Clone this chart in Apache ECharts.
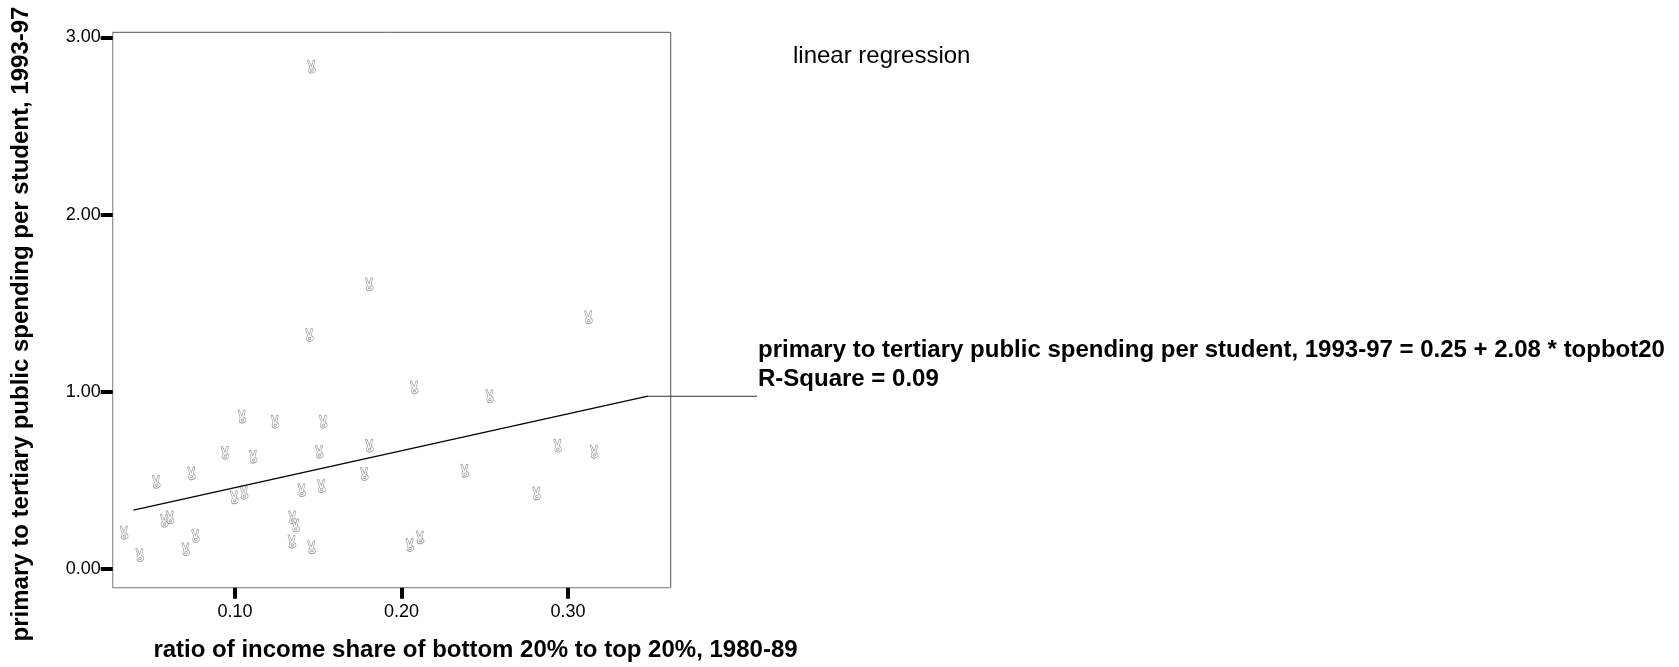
<!DOCTYPE html>
<html>
<head>
<meta charset="utf-8">
<script src="https://cdn.jsdelivr.net/npm/echarts@6/dist/echarts.min.js"></script>
<style>
    html, body {margin: 0; padding: 0; background: #fff;}
    #chart {width: 1679px; height: 667px;}
</style>
</head>
<body>
<div id="chart"></div>
<script>
// ratio of income share of bottom 20% to top 20%, 1980-89
const incomeRatio = [0.1460, 0.1806, 0.3123, 0.1447, 0.2077, 0.2530, 0.1042, 0.1240, 0.1530, 0.0940,
    0.1109, 0.1506, 0.1808, 0.2938, 0.3157, 0.0739, 0.0527, 0.1777, 0.2380, 0.1401,
    0.1519, 0.0996, 0.1055, 0.2811, 0.0575, 0.0610, 0.1345, 0.1364, 0.0334, 0.0763,
    0.0428, 0.0704, 0.1342, 0.1460, 0.2050, 0.2112]
// primary to tertiary public spending per student, 1993-97
const spendingRatio = [2.835, 1.606, 1.420, 1.320, 1.024, 0.975, 0.859, 0.830, 0.830, 0.655,
    0.633, 0.661, 0.695, 0.695, 0.661, 0.539, 0.491, 0.535, 0.553, 0.444,
    0.467, 0.403, 0.429, 0.426, 0.271, 0.290, 0.290, 0.245, 0.203, 0.185,
    0.077, 0.110, 0.153, 0.121, 0.134, 0.177]
// fitted line ends
const regressionLine = [[0.039, 0.331], [0.348, 0.974]]
const xTicks = [0.1, 0.2, 0.3]
const yTicks = [0, 1, 2, 3]

const font = "'Liberation Sans', Arial, sans-serif"
const labelLeft = 758
// victory hand glyph used as marker
const handPath = 'path://M6 18 L2 3 Q2.5 1 4.5 1.5 L9 15 L12 2 Q14 1 15 3 L12 18 Q17 20 16 26 Q14 31 9 31 Q4 31 4 25 Q4 20 6 18 Z M7 24 Q7 21.5 9.5 21.5 Q12 21.5 12 24 Q12 26.5 9.5 26.5 Q7 26.5 7 24 Z'

const points = incomeRatio.map((x, i) => [x, spendingRatio[i]])

const myChart = echarts.init(document.getElementById('chart'))

const option = {
    animation: false,
    textStyle: {fontFamily: font},
    grid: {
        left: 112.7,
        right: 1008.3,
        top: 32.3,
        bottom: 79.3,
        show: true,
        borderColor: '#555',
        borderWidth: 1
    },
    xAxis: {
        type: 'value',
        min: 0.02655,
        max: 0.3617,
        splitLine: {show: false},
        axisLine: {show: true, onZero: false, lineStyle: {color: '#999', width: 1}},
        axisTick: {
            show: true,
            customValues: xTicks,
            length: 11,
            lineStyle: {color: '#000', width: 4}
        },
        axisLabel: {
            customValues: xTicks,
            formatter: v => v.toFixed(2),
            color: '#000',
            fontSize: 18,
            margin: 15
        }
    },
    yAxis: {
        type: 'value',
        min: -0.1073,
        max: 3.0294,
        splitLine: {show: false},
        axisLine: {show: true, onZero: false, lineStyle: {color: '#999', width: 1}},
        axisTick: {
            show: true,
            customValues: yTicks,
            length: 12,
            lineStyle: {color: '#000', width: 4}
        },
        axisLabel: {
            customValues: yTicks,
            formatter: v => v.toFixed(2),
            color: '#000',
            fontSize: 18,
            margin: 12
        }
    },
    graphic: [
        {
            type: 'text',
            x: 475.5,
            y: 650,
            style: {
                text: 'ratio of income share of bottom 20% to top 20%, 1980-89',
                font: 'bold 24px ' + font,
                fill: '#000',
                align: 'center',
                verticalAlign: 'middle'
            }
        },
        {
            type: 'text',
            x: 21,
            y: 324,
            rotation: Math.PI / 2,
            style: {
                text: 'primary to tertiary public spending per student, 1993-97',
                font: 'bold 24px ' + font,
                fill: '#000',
                align: 'center',
                verticalAlign: 'middle'
            }
        },
        {
            type: 'text',
            x: 793,
            y: 56,
            style: {
                text: 'linear regression',
                font: '24px ' + font,
                fill: '#000',
                align: 'left',
                verticalAlign: 'middle'
            }
        },
        {
            type: 'text',
            x: labelLeft,
            y: 350,
            style: {
                text: 'primary to tertiary public spending per student, 1993-97 = 0.25 + 2.08 * topbot20',
                font: 'bold 24px ' + font,
                fill: '#000',
                align: 'left',
                verticalAlign: 'middle'
            }
        },
        {
            type: 'text',
            x: labelLeft,
            y: 379,
            style: {
                text: 'R-Square = 0.09',
                font: 'bold 24px ' + font,
                fill: '#000',
                align: 'left',
                verticalAlign: 'middle'
            }
        }
    ],
    series: [
        {
            type: 'scatter',
            data: points,
            symbol: handPath,
            symbolSize: [8, 13],
            itemStyle: {
                color: '#fff',
                borderColor: '#8a8a8a',
                borderWidth: 0.8
            },
            z: 3
        },
        {
            type: 'line',
            data: regressionLine,
            symbol: 'none',
            lineStyle: {color: '#000', width: 1.3},
            z: 4
        }
    ]
}

option && myChart.setOption(option)

// leader from the end of the fitted line to the equation label
const lineEnd = myChart.convertToPixel({gridIndex: 0}, regressionLine[regressionLine.length - 1])
myChart.setOption({
    graphic: [{
        id: 'leader',
        type: 'line',
        shape: {x1: lineEnd[0], y1: lineEnd[1], x2: labelLeft - 1, y2: lineEnd[1]},
        style: {stroke: '#333', lineWidth: 1},
        z: 4
    }]
})
</script>
</body>
</html>
